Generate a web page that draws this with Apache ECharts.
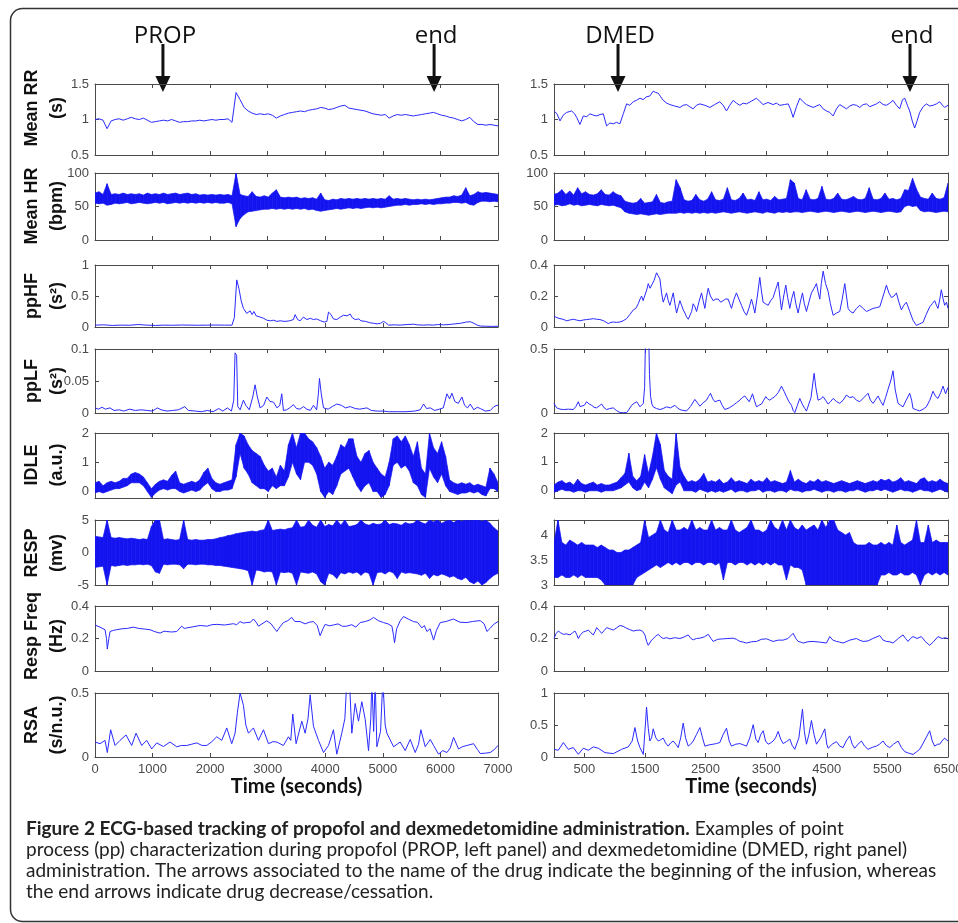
<!DOCTYPE html>
<html><head><meta charset="utf-8">
<script src="https://cdn.jsdelivr.net/npm/echarts@6/dist/echarts.min.js"></script>
<style>html,body{margin:0;padding:0;background:#fff}#c{width:958px;height:923px}</style>
</head><body><div id="c"></div><script>
// ---------------- DATA ----------------
const leftTimeTicks = [0,1000,2000,3000,4000,5000,6000,7000];
const rightTimeTicks = [500,1500,2500,3500,4500,5500,6500];
const leftSpan = 7000, rightSpan = 6500;

const rowLabels = [['Mean RR','(s)'],['Mean HR','(bpm)'],['ppHF','(s\u00B2)'],['ppLF','(s\u00B2)'],['IDLE','(a.u.)'],['RESP','(mv)'],['Resp Freq','(Hz)'],['RSA','(s/n.u.)']];

// Left (propofol) -------------------------------------------------------
const rrLeft = [1.00,1.01,0.99,0.87,0.98,1.00,1.01,0.99,1.01,1.03,
 1.01,1.00,1.02,0.99,0.96,0.97,0.98,0.99,0.98,1.00,
 0.98,0.96,0.97,0.97,0.98,0.98,0.99,0.98,0.99,1.00,
 0.99,1.00,1.00,1.01,0.96,1.38,1.28,1.17,1.12,1.09,
 1.07,1.08,1.07,1.08,1.06,1.02,1.05,1.07,1.09,1.10,
 1.11,1.12,1.11,1.13,1.14,1.15,1.17,1.16,1.14,1.15,
 1.17,1.19,1.20,1.16,1.15,1.14,1.13,1.12,1.10,1.08,
 1.07,1.06,1.07,1.02,1.05,1.07,1.06,1.07,1.06,1.05,
 1.06,1.07,1.08,1.09,1.10,1.08,1.06,1.05,1.03,1.02,
 1.00,0.98,1.00,1.03,0.97,0.93,0.93,0.92,0.93,0.92,0.91];

const hrLeftUpper = [70,72,68,84,68,69,68,70,68,69, 68,69,67,70,68,69,68,70,68,69, 70,68,69,70,68,69,67,68,67,68,
 67,68,67,68,66,100,68,66,65,72, 65,64,66,64,70,75,64,63,64,63, 64,62,63,62,63,61,70,60,59,61,
 60,62,61,62,61,62,61,62,61,62, 61,62,61,66,61,62,61,62,61,60, 61,60,61,60,61,62,63,64,64,66,
 65,67,78,66,68,72,70,71,70,69, 68];
const hrLeftLower = [55,54,55,52,53,55,54,55,56,54, 55,56,55,54,55,56,55,56,54,55, 56,55,56,55,56,55,56,55,56,55,
 56,55,55,56,54,20,32,38,42,43, 44,45,46,46,47,46,47,46,47,46, 47,46,47,45,46,44,43,44,45,46,
 47,46,47,48,47,48,47,48,49,48, 49,48,49,50,51,52,52,53,52,53, 53,54,53,54,53,54,54,55,55,56,
 56,55,56,53,52,56,58,58,57,58, 57];

const ppHFLeft = [[0,0.03],[150,0.035],[300,0.025],[450,0.03],[600,0.028],[750,0.04],[900,0.03],[1050,0.025],[1200,0.03],[1350,0.028],[1500,0.032],[1650,0.03],[1800,0.028],[1950,0.03],[2100,0.032],[2250,0.03],[2380,0.03],[2420,0.15],[2462,0.76],[2500,0.62],[2540,0.42],[2578,0.3],[2636,0.22],[2694,0.26],[2730,0.2],[2760,0.25],[2800,0.18],[2868,0.16],[2930,0.14],[2984,0.11],[3050,0.1],[3100,0.11],[3160,0.09],[3215,0.1],[3300,0.09],[3380,0.1],[3447,0.12],[3476,0.2],[3520,0.12],[3563,0.1],[3620,0.16],[3680,0.12],[3740,0.14],[3795,0.12],[3850,0.13],[3920,0.1],[3980,0.08],[4027,0.09],[4056,0.24],[4100,0.2],[4142,0.13],[4200,0.12],[4260,0.16],[4316,0.19],[4380,0.18],[4432,0.21],[4470,0.15],[4520,0.12],[4580,0.13],[4620,0.1],[4700,0.09],[4770,0.07],[4838,0.06],[4900,0.05],[4960,0.06],[5012,0.09],[5050,0.07],[5100,0.03],[5200,0.035],[5300,0.03],[5420,0.04],[5533,0.045],[5600,0.035],[5700,0.03],[5800,0.035],[5881,0.03],[5950,0.04],[6050,0.035],[6150,0.04],[6250,0.05],[6350,0.06],[6450,0.08],[6518,0.085],[6580,0.06],[6640,0.03],[6692,0.015],[6800,0.012],[6900,0.01],[7000,0.012]];

const ppLFLeft = [[0,0.008],[60,0.006],[120,0.009],[180,0.006],[260,0.008],[330,0.004],[420,0.005],[500,0.003],[600,0.006],[700,0.004],[800,0.005],[900,0.004],[1000,0.003],[1080,0.008],[1150,0.005],[1250,0.003],[1350,0.004],[1450,0.005],[1560,0.01],[1620,0.004],[1750,0.003],[1850,0.002],[1950,0.004],[2050,0.002],[2150,0.007],[2220,0.003],[2300,0.008],[2370,0.003],[2410,0.02],[2433,0.094],[2460,0.09],[2480,0.01],[2520,0.005],[2578,0.02],[2620,0.012],[2680,0.005],[2740,0.025],[2781,0.044],[2820,0.025],[2868,0.008],[2930,0.012],[2984,0.025],[3040,0.018],[3100,0.017],[3160,0.008],[3210,0.012],[3244,0.03],[3273,0.004],[3330,0.005],[3380,0.008],[3447,0.013],[3500,0.007],[3560,0.006],[3620,0.01],[3680,0.006],[3740,0.004],[3795,0.012],[3850,0.005],[3880,0.03],[3899,0.054],[3930,0.03],[3969,0.008],[4050,0.006],[4120,0.01],[4200,0.014],[4280,0.012],[4350,0.008],[4432,0.01],[4520,0.007],[4600,0.006],[4722,0.008],[4800,0.004],[4900,0.003],[5012,0.003],[5100,0.002],[5250,0.002],[5400,0.002],[5550,0.003],[5650,0.005],[5707,0.014],[5760,0.007],[5823,0.008],[5900,0.004],[5980,0.006],[6050,0.008],[6112,0.03],[6160,0.022],[6199,0.031],[6250,0.018],[6310,0.015],[6373,0.025],[6420,0.012],[6470,0.008],[6518,0.014],[6580,0.005],[6640,0.009],[6692,0.007],[6780,0.003],[6866,0.004],[6930,0.01],[6982,0.012],[7000,0.012]];

const idleLeftUpper = [0.3,0.35,0.2,0.3,0.35,0.3,0.35,0.45,0.45,0.6,
 0.65,0.6,0.5,0.3,0.1,0.25,0.35,0.4,0.35,0.55,
 0.7,0.3,0.25,0.3,0.35,0.3,0.4,0.65,0.8,0.45,
 0.3,0.25,0.3,0.35,0.4,1.6,2.0,1.9,1.6,1.4,
 1.3,1.2,0.9,0.7,0.8,0.5,0.9,0.7,1.6,2.0,
 1.5,2.0,2.0,1.8,1.7,1.5,1.2,0.8,1.0,0.9,
 1.2,1.6,1.5,1.8,1.8,1.2,1.0,1.3,1.4,1.0,
 0.8,0.6,0.5,1.0,1.8,1.9,1.7,1.9,1.6,1.2,
 1.7,0.8,0.6,2.0,1.5,1.3,1.7,1.2,0.4,0.3,
 0.25,0.3,0.25,0.3,0.2,0.25,0.2,0.15,0.8,0.6,0.3];
const idleLeftLower = [-0.05,0.0,-0.05,0.0,0.05,0.1,0.1,0.15,0.2,0.3,
 0.3,0.3,0.2,0.0,-0.2,-0.05,0.05,0.1,0.05,0.1,
 0.1,0.0,-0.05,0.0,0.05,0.0,0.05,0.2,0.3,0.1,
 0.0,0.0,0.05,0.05,0.1,0.5,1.3,0.8,0.6,0.3,
 0.2,0.1,0.1,0.0,0.2,0.1,0.2,0.2,0.5,1.0,
 0.6,0.4,1.0,1.0,0.9,0.6,0.0,-0.2,0.0,-0.1,
 0.2,0.6,0.7,0.8,0.5,0.2,0.0,0.2,0.3,0.0,
 0.0,-0.2,-0.1,0.2,0.9,1.0,0.8,0.9,0.7,0.3,
 0.2,-0.1,-0.2,0.8,0.5,0.3,0.6,0.2,0.0,-0.05,
 -0.1,-0.05,-0.05,0.0,-0.05,0.0,-0.1,-0.15,0.1,0.1,0.0];

const respLeftUpper = [2.5,2.4,2.3,5,2.3,2.2,2.3,2.2,2.1,2.2,2.1,
 2.0,2.1,2.0,4.0,5.0,5.0,2.0,2.1,2.0,1.9,2.0,5.0,2.0,1.9,2.0,1.9,1.9,2.0,
 2.0,2.1,2.3,2.4,2.6,2.7,2.9,3.0,3.1,3.2,3.3,3.2,
 3.4,3.5,5.0,3.4,3.5,3.6,3.5,3.7,3.8,5.0,
 3.9,4.0,5.0,4.2,3.9,5.0,4.0,4.3,4.1,5.0,4.2,5.0,4.0,4.1,
 4.3,5.0,4.4,4.2,4.5,4.3,4.4,5.0,4.3,4.5,4.4,4.2,4.6,4.4,
 4.5,5.0,4.6,4.4,5.0,4.7,5.0,4.5,4.8,5.0,4.6,5.0,4.8,5.0,4.9,5.0,5.0,4.8,5.0,4.5,3.8,3.3];
const respLeftLower = [-2.3,-2.2,-2.1,-5,-2.0,-2.1,-2.0,-1.9,-2.0,-1.9,-1.9,
 -1.8,-1.9,-1.8,-2.0,-3.0,-3.2,-1.8,-1.9,-1.8,-1.8,-1.9,-2.5,-1.8,-1.8,-1.9,-1.8,-1.8,-1.9,
 -1.9,-2.0,-2.0,-2.1,-2.2,-2.3,-2.4,-2.5,-2.6,-2.8,-5.0,-2.7,
 -2.8,-3.0,-2.9,-3.0,-5.0,-3.0,-3.1,-3.0,-3.2,-5.0,
 -3.0,-3.1,-3.2,-3.0,-3.3,-4.5,-5.0,-3.2,-3.4,-4.0,-3.1,-3.3,-3.0,-3.2,
 -3.0,-3.5,-3.0,-3.2,-5.0,-3.1,-3.0,-3.3,-2.9,-3.1,-4.0,-3.0,-3.2,-3.1,
 -3.2,-3.3,-3.5,-3.2,-4.0,-3.4,-3.6,-3.3,-3.5,-3.8,-3.6,-4.0,-4.2,-3.8,-4.5,-4.8,-4.4,-5.0,-4.6,-4.0,-3.5,-3.2];

const respFreqLeft = [[0,0.283],[87,0.27],[174,0.254],[200,0.2],[214,0.135],[240,0.2],[261,0.243],[320,0.25],[377,0.254],[470,0.26],[560,0.262],[666,0.27],[760,0.262],[860,0.258],[956,0.254],[1040,0.242],[1130,0.233],[1200,0.245],[1246,0.243],[1330,0.24],[1419,0.243],[1506,0.276],[1550,0.262],[1593,0.265],[1700,0.272],[1825,0.28],[1950,0.276],[2030,0.285],[2115,0.287],[2250,0.283],[2404,0.291],[2460,0.285],[2520,0.304],[2580,0.295],[2636,0.298],[2700,0.3],[2752,0.32],[2800,0.3],[2839,0.276],[2900,0.29],[2984,0.309],[3060,0.29],[3120,0.26],[3158,0.243],[3210,0.27],[3273,0.298],[3350,0.31],[3418,0.33],[3470,0.305],[3563,0.304],[3650,0.29],[3720,0.3],[3795,0.304],[3860,0.28],[3910,0.217],[3960,0.26],[3998,0.287],[4070,0.278],[4142,0.283],[4220,0.29],[4300,0.275],[4374,0.276],[4460,0.285],[4530,0.27],[4606,0.298],[4700,0.305],[4780,0.315],[4838,0.33],[4920,0.31],[5012,0.298],[5090,0.29],[5157,0.276],[5185,0.22],[5203,0.174],[5240,0.26],[5301,0.309],[5359,0.335],[5440,0.32],[5533,0.304],[5600,0.3],[5678,0.265],[5720,0.28],[5765,0.243],[5820,0.26],[5881,0.19],[5930,0.25],[5997,0.298],[6100,0.305],[6228,0.32],[6340,0.3],[6460,0.298],[6560,0.305],[6692,0.31],[6760,0.29],[6808,0.243],[6870,0.265],[6924,0.287],[7000,0.304]];

const rsaLeft = [[0,0.117],[87,0.104],[174,0.13],[214,0.035],[272,0.213],[348,0.09],[435,0.13],[539,0.172],[637,0.09],[713,0.186],[811,0.09],[898,0.13],[985,0.063],[1072,0.11],[1188,0.082],[1304,0.117],[1419,0.08],[1500,0.09],[1593,0.09],[1680,0.1],[1767,0.11],[1860,0.09],[1941,0.09],[2030,0.12],[2115,0.158],[2202,0.13],[2289,0.227],[2375,0.104],[2433,0.186],[2474,0.35],[2520,0.5],[2578,0.404],[2620,0.25],[2665,0.186],[2752,0.227],[2839,0.13],[2926,0.213],[3013,0.104],[3090,0.12],[3158,0.117],[3273,0.09],[3360,0.158],[3400,0.13],[3435,0.336],[3493,0.104],[3592,0.28],[3650,0.186],[3700,0.3],[3737,0.486],[3795,0.24],[3882,0.13],[3969,0.035],[4056,0.09],[4142,0.213],[4200,0.022],[4287,0.186],[4340,0.3],[4374,0.6],[4420,0.6],[4461,0.186],[4519,0.418],[4577,0.28],[4635,0.432],[4693,0.295],[4751,0.05],[4790,0.3],[4809,0.6],[4840,0.2],[4867,0.6],[4896,0.08],[4960,0.2],[5000,0.6],[5040,0.25],[5070,0.186],[5186,0.08],[5301,0.117],[5388,0.05],[5475,0.137],[5562,0.035],[5620,0.1],[5660,0.213],[5736,0.08],[5823,0.137],[5881,0.09],[5968,0.022],[6040,0.05],[6112,0.035],[6170,0.07],[6228,0.153],[6315,0.063],[6380,0.08],[6460,0.09],[6576,0.104],[6640,0.06],[6692,0.027],[6780,0.03],[6866,0.035],[6940,0.06],[7000,0.09]];

// Right (dexmedetomidine) ----------------------------------------------
const rrRight = [[0,1.12],[50,1.08],[99,0.98],[150,1.06],[209,1.1],[291,1.12],[340,1.08],[374,1.03],[428,0.93],[483,1.05],[540,1.04],[593,1.08],[650,1.06],[703,1.05],[760,1.07],[813,1.08],[868,0.91],[920,0.95],[978,0.94],[1030,0.96],[1088,0.94],[1143,1.08],[1198,1.22],[1250,1.2],[1308,1.25],[1360,1.27],[1418,1.3],[1470,1.28],[1527,1.32],[1580,1.33],[1637,1.4],[1680,1.38],[1720,1.37],[1760,1.32],[1802,1.27],[1860,1.23],[1912,1.21],[1990,1.19],[2077,1.17],[2130,1.2],[2187,1.21],[2240,1.18],[2297,1.15],[2350,1.2],[2407,1.22],[2490,1.2],[2571,1.17],[2650,1.21],[2736,1.25],[2790,1.2],[2846,1.12],[2900,1.2],[2956,1.27],[3010,1.23],[3066,1.2],[3120,1.23],[3176,1.22],[3260,1.26],[3341,1.3],[3400,1.25],[3451,1.21],[3530,1.24],[3615,1.21],[3670,1.23],[3725,1.2],[3800,1.21],[3863,1.22],[3900,1.15],[3945,1.03],[4000,1.18],[4055,1.3],[4110,1.25],[4165,1.21],[4220,1.19],[4275,1.17],[4330,1.19],[4385,1.21],[4440,1.15],[4495,1.12],[4550,1.1],[4605,1.05],[4660,1.15],[4714,1.21],[4770,1.18],[4824,1.15],[4880,1.19],[4934,1.21],[4990,1.2],[5044,1.17],[5100,1.21],[5154,1.22],[5210,1.18],[5264,1.2],[5320,1.22],[5374,1.25],[5430,1.21],[5484,1.2],[5540,1.23],[5593,1.27],[5650,1.2],[5703,1.15],[5750,1.28],[5786,1.3],[5830,1.2],[5868,1.12],[5910,0.98],[5950,0.88],[5990,0.98],[6033,1.1],[6090,1.18],[6143,1.22],[6200,1.19],[6253,1.2],[6310,1.22],[6363,1.25],[6410,1.2],[6445,1.17],[6500,1.2]];

const hrRightUpper = [68,70,75,68,73,67,78,69,72,68, 67,69,75,68,67,72,68,66,58,56, 55,56,62,55,56,57,68,56,55,57,
 58,90,78,60,58,59,68,60,58,61, 72,60,59,61,78,60,59,62,70,60, 61,59,72,60,61,59,65,60,61,62,
 90,85,62,60,75,61,60,62,80,61, 60,62,70,61,60,62,65,61,60,62, 78,61,60,62,70,61,62,60,62,75,
 74,92,76,64,62,61,70,62,61,63, 85];
const hrRightLower = [52,53,51,52,54,52,53,51,52,53, 52,51,53,52,51,52,50,48,42,40, 39,38,39,38,37,38,39,38,39,40,
 40,40,41,40,41,40,41,40,41,40, 41,40,41,42,41,40,41,42,41,40, 41,42,41,40,42,41,40,42,41,42,
 41,42,42,41,42,43,42,41,42,43, 42,41,42,43,42,41,42,43,42,41, 42,43,42,41,42,43,42,41,42,50,
 52,50,51,44,42,43,42,41,42,43, 42];

const ppHFRight = [[0,0.07],[50,0.06],[99,0.054],[150,0.05],[209,0.04],[260,0.045],[319,0.05],[370,0.045],[428,0.04],[480,0.045],[538,0.048],[590,0.05],[648,0.054],[700,0.05],[758,0.048],[820,0.04],[896,0.022],[940,0.03],[978,0.032],[1030,0.03],[1088,0.032],[1140,0.04],[1198,0.054],[1250,0.08],[1308,0.11],[1350,0.12],[1390,0.15],[1420,0.18],[1445,0.2],[1470,0.17],[1500,0.18],[1530,0.24],[1555,0.28],[1585,0.25],[1610,0.26],[1650,0.3],[1692,0.35],[1720,0.33],[1747,0.31],[1775,0.22],[1802,0.16],[1830,0.19],[1857,0.22],[1885,0.17],[1912,0.14],[1940,0.18],[1967,0.22],[1995,0.15],[2022,0.09],[2050,0.13],[2077,0.17],[2105,0.14],[2132,0.11],[2160,0.09],[2187,0.065],[2215,0.05],[2242,0.043],[2270,0.1],[2297,0.15],[2325,0.13],[2352,0.1],[2390,0.16],[2434,0.22],[2460,0.17],[2489,0.12],[2515,0.19],[2544,0.25],[2580,0.2],[2626,0.17],[2670,0.18],[2709,0.18],[2750,0.16],[2791,0.17],[2830,0.18],[2873,0.18],[2900,0.15],[2928,0.12],[2970,0.18],[3010,0.22],[3050,0.18],[3093,0.14],[3135,0.1],[3176,0.076],[3215,0.12],[3258,0.18],[3285,0.14],[3313,0.09],[3355,0.2],[3395,0.32],[3420,0.24],[3450,0.16],[3490,0.15],[3533,0.14],[3575,0.17],[3615,0.19],[3655,0.24],[3698,0.29],[3725,0.2],[3753,0.11],[3790,0.2],[3824,0.27],[3855,0.19],[3890,0.12],[3920,0.18],[3956,0.23],[3990,0.15],[4027,0.09],[4063,0.16],[4099,0.22],[4130,0.15],[4165,0.1],[4205,0.16],[4247,0.22],[4290,0.25],[4330,0.28],[4360,0.22],[4385,0.18],[4410,0.28],[4440,0.36],[4480,0.28],[4522,0.23],[4560,0.15],[4605,0.076],[4660,0.09],[4714,0.1],[4755,0.18],[4797,0.28],[4825,0.2],[4852,0.12],[4890,0.1],[4934,0.09],[4990,0.12],[5044,0.14],[5100,0.12],[5154,0.1],[5210,0.11],[5264,0.12],[5320,0.125],[5374,0.13],[5430,0.2],[5484,0.27],[5525,0.22],[5566,0.19],[5610,0.2],[5649,0.22],[5690,0.16],[5731,0.11],[5770,0.14],[5813,0.16],[5870,0.1],[5923,0.043],[5978,0.01],[6030,0.02],[6088,0.03],[6140,0.08],[6198,0.13],[6240,0.15],[6280,0.17],[6310,0.14],[6335,0.12],[6365,0.18],[6390,0.24],[6420,0.18],[6445,0.14],[6475,0.16],[6500,0.12]];

const ppLFRight = [[0,0.075],[44,0.04],[100,0.03],[154,0.027],[240,0.03],[319,0.027],[360,0.05],[401,0.088],[430,0.05],[456,0.035],[500,0.06],[538,0.088],[580,0.07],[621,0.06],[660,0.045],[703,0.04],[745,0.055],[786,0.07],[830,0.04],[868,0.027],[920,0.035],[978,0.04],[1030,0.02],[1088,0.003],[1150,0.003],[1198,0.003],[1240,0.03],[1280,0.06],[1320,0.075],[1363,0.088],[1390,0.07],[1418,0.048],[1450,0.06],[1473,0.075],[1495,0.2],[1517,0.8],[1555,0.8],[1575,0.3],[1593,0.13],[1615,0.07],[1637,0.048],[1690,0.035],[1747,0.027],[1800,0.035],[1857,0.048],[1920,0.04],[1995,0.06],[2035,0.04],[2077,0.027],[2130,0.02],[2187,0.016],[2250,0.05],[2324,0.106],[2365,0.08],[2407,0.053],[2460,0.08],[2516,0.1],[2550,0.13],[2582,0.154],[2620,0.11],[2654,0.088],[2695,0.095],[2736,0.1],[2775,0.06],[2818,0.027],[2890,0.04],[2956,0.06],[3010,0.08],[3066,0.1],[3105,0.12],[3148,0.133],[3185,0.11],[3220,0.088],[3250,0.12],[3275,0.15],[3305,0.1],[3341,0.048],[3380,0.06],[3423,0.07],[3460,0.1],[3494,0.128],[3525,0.11],[3560,0.1],[3600,0.115],[3643,0.128],[3700,0.16],[3753,0.21],[3795,0.17],[3835,0.128],[3875,0.09],[3918,0.06],[3945,0.02],[3973,0.003],[4015,0.06],[4055,0.114],[4095,0.07],[4137,0.035],[4165,0.015],[4192,0.01],[4240,0.12],[4291,0.31],[4320,0.2],[4357,0.1],[4400,0.11],[4440,0.128],[4480,0.1],[4522,0.07],[4565,0.09],[4605,0.114],[4660,0.09],[4714,0.075],[4770,0.1],[4824,0.14],[4880,0.12],[4934,0.128],[4990,0.1],[5044,0.088],[5110,0.12],[5181,0.154],[5220,0.1],[5264,0.075],[5300,0.1],[5346,0.133],[5390,0.09],[5429,0.06],[5470,0.12],[5511,0.186],[5555,0.25],[5593,0.33],[5630,0.18],[5676,0.075],[5720,0.06],[5758,0.048],[5810,0.1],[5868,0.154],[5900,0.1],[5923,0.035],[5980,0.025],[6033,0.016],[6090,0.03],[6143,0.048],[6200,0.1],[6253,0.17],[6295,0.13],[6335,0.114],[6380,0.16],[6418,0.21],[6460,0.15],[6500,0.2]];

const idleRightUpper = [0.2,0.3,0.35,0.25,0.3,0.2,0.4,0.25,0.2,0.25,
 0.3,0.2,0.25,0.2,0.2,0.25,0.3,0.45,0.6,1.3,
 0.5,0.35,0.5,1.25,0.6,1.2,2.0,1.6,0.7,0.5,
 0.4,2.0,0.8,0.5,0.3,0.35,0.3,0.4,0.6,0.3,
 0.35,0.3,0.4,0.25,0.3,0.45,0.3,0.35,0.3,0.25,
 0.4,0.3,0.35,0.3,0.45,0.3,0.35,0.3,0.25,0.3,
 0.7,0.3,0.4,0.3,0.25,0.35,0.3,0.4,0.3,0.35,
 0.3,0.25,0.3,0.35,0.3,0.25,0.3,0.35,0.3,0.25,
 0.3,0.35,0.3,0.4,0.35,0.4,0.3,0.35,0.45,0.3,
 0.35,0.3,0.25,0.4,0.45,0.3,0.35,0.3,0.4,0.3,0.25];
const idleRightLower = [-0.05,0.0,0.05,0.0,0.0,-0.05,0.0,0.0,-0.05,0.0,
 0.0,0.0,-0.05,0.0,0.0,0.0,0.05,0.1,0.2,0.3,
 0.1,0.0,0.05,0.3,0.1,0.4,0.8,0.4,0.1,0.0,
 -0.1,0.2,0.3,0.0,0.0,0.0,-0.05,0.05,0.0,-0.05,
 0.0,-0.05,0.0,-0.05,0.0,0.05,-0.05,0.0,0.0,-0.05,
 0.0,0.0,0.05,-0.05,0.0,0.0,-0.05,0.0,0.0,-0.05,
 0.05,0.0,0.0,-0.05,0.0,0.0,0.05,0.0,-0.05,0.0,
 0.0,-0.05,0.0,0.0,-0.05,0.0,0.0,0.05,0.0,-0.05,
 0.0,0.0,0.05,0.0,0.05,0.0,-0.05,0.0,0.05,0.0,
 0.0,-0.05,0.0,0.05,0.0,0.0,-0.05,0.0,0.05,0.0,-0.05];

const respRightUpper = [3.85,4.3,3.85,3.8,3.9,3.85,3.8,3.85,3.8,3.8,
 3.8,3.75,3.8,3.75,3.7,3.7,3.65,3.65,3.7,3.7,
 3.75,3.8,3.85,4.3,3.95,4.0,4.05,4.3,4.1,4.05,
 4.3,4.1,4.1,4.15,4.1,4.3,4.1,4.15,4.1,4.1,
 4.3,4.1,4.15,4.1,4.1,4.3,4.1,4.05,4.1,4.15,
 4.3,4.1,4.1,4.05,4.1,4.3,4.15,4.1,4.3,4.1,
 4.3,4.15,4.1,4.2,4.1,4.15,4.2,4.1,4.3,4.15,
 4.3,4.3,4.1,4.05,4.0,4.05,3.85,3.8,3.8,3.8,
 3.85,3.8,3.8,3.85,3.8,3.85,3.8,4.2,3.85,3.8,
 3.85,3.9,4.3,3.85,3.85,4.2,3.85,3.9,3.85,3.85,3.85];
const respRightLower = [3.15,3.15,3.2,3.15,3.15,3.2,3.15,3.2,3.15,3.15,
 3.15,3.15,3.1,2.9,2.9,2.9,2.9,2.9,2.9,2.9,
 3.0,3.15,3.2,3.25,3.3,3.35,3.4,3.35,3.4,3.45,
 3.4,3.45,3.4,3.45,3.45,3.4,3.45,3.45,3.4,3.45,
 3.45,3.4,3.45,3.1,3.45,3.45,3.4,3.45,3.45,3.4,
 3.45,3.4,3.45,3.4,3.45,3.4,3.45,3.4,3.4,3.1,
 3.4,3.35,3.35,3.3,2.9,2.9,2.9,2.9,2.9,2.9,
 2.9,2.9,2.9,2.9,2.9,2.9,2.9,2.9,2.9,2.9,
 2.9,2.9,2.9,3.2,3.2,3.25,3.2,3.2,3.25,3.2,
 3.2,3.25,3.2,2.9,3.2,3.25,3.2,3.25,3.2,3.25,3.2];

const respFreqRight = [[0,0.2],[35,0.23],[71,0.246],[110,0.235],[154,0.226],[210,0.228],[264,0.222],[305,0.235],[346,0.246],[375,0.225],[401,0.2],[440,0.225],[483,0.24],[525,0.245],[566,0.252],[610,0.235],[648,0.222],[680,0.245],[703,0.267],[745,0.25],[786,0.232],[830,0.25],[868,0.267],[920,0.26],[978,0.252],[1030,0.265],[1088,0.28],[1140,0.275],[1198,0.263],[1250,0.255],[1308,0.246],[1360,0.25],[1418,0.252],[1460,0.245],[1500,0.222],[1530,0.18],[1555,0.158],[1600,0.185],[1637,0.2],[1680,0.215],[1720,0.226],[1760,0.21],[1802,0.2],[1860,0.205],[1912,0.198],[1990,0.205],[2077,0.2],[2150,0.21],[2214,0.222],[2260,0.2],[2297,0.192],[2350,0.2],[2407,0.202],[2480,0.21],[2544,0.226],[2590,0.2],[2626,0.182],[2700,0.195],[2791,0.198],[2870,0.2],[2956,0.202],[3010,0.195],[3066,0.182],[3120,0.178],[3176,0.172],[3260,0.18],[3341,0.182],[3420,0.195],[3505,0.198],[3560,0.19],[3615,0.182],[3700,0.19],[3780,0.19],[3860,0.2],[3945,0.232],[3990,0.2],[4027,0.182],[4070,0.178],[4110,0.172],[4190,0.18],[4275,0.182],[4380,0.178],[4495,0.172],[4550,0.212],[4600,0.19],[4660,0.182],[4710,0.178],[4769,0.172],[4880,0.19],[4989,0.2],[5040,0.19],[5099,0.182],[5180,0.185],[5260,0.2],[5374,0.218],[5430,0.19],[5484,0.182],[5540,0.18],[5593,0.172],[5680,0.2],[5758,0.222],[5800,0.2],[5841,0.182],[5880,0.2],[5923,0.212],[5990,0.2],[6060,0.212],[6130,0.18],[6198,0.158],[6260,0.18],[6335,0.212],[6400,0.2],[6460,0.205],[6500,0.198]];

const rsaRight = [[0,0.12],[71,0.105],[154,0.226],[236,0.12],[319,0.147],[401,0.042],[483,0.137],[566,0.105],[648,0.158],[731,0.137],[841,0.068],[978,0.053],[1116,0.12],[1225,0.158],[1290,0.25],[1335,0.46],[1380,0.25],[1418,0.147],[1473,0.04],[1500,0.4],[1527,0.78],[1555,0.45],[1582,0.25],[1610,0.3],[1637,0.44],[1680,0.3],[1720,0.25],[1760,0.27],[1802,0.295],[1840,0.22],[1884,0.17],[1925,0.22],[1967,0.25],[2010,0.2],[2049,0.147],[2090,0.3],[2132,0.53],[2170,0.3],[2214,0.17],[2255,0.2],[2297,0.25],[2350,0.35],[2407,0.46],[2450,0.3],[2489,0.17],[2560,0.19],[2626,0.2],[2680,0.21],[2736,0.226],[2790,0.35],[2846,0.45],[2890,0.25],[2928,0.17],[3000,0.2],[3066,0.21],[3120,0.19],[3176,0.17],[3230,0.3],[3286,0.505],[3330,0.28],[3368,0.226],[3410,0.35],[3451,0.41],[3490,0.25],[3533,0.2],[3575,0.22],[3615,0.25],[3655,0.3],[3698,0.4],[3740,0.28],[3780,0.21],[3835,0.24],[3890,0.28],[3930,0.18],[3972,0.12],[4040,0.3],[4099,0.75],[4130,0.4],[4165,0.2],[4205,0.35],[4247,0.57],[4290,0.35],[4330,0.2],[4400,0.3],[4467,0.44],[4500,0.2],[4522,0.137],[4590,0.2],[4660,0.24],[4715,0.17],[4769,0.147],[4820,0.25],[4879,0.33],[4920,0.2],[4961,0.137],[5015,0.2],[5071,0.25],[5125,0.17],[5181,0.12],[5250,0.15],[5318,0.17],[5370,0.2],[5429,0.25],[5480,0.18],[5539,0.147],[5600,0.2],[5676,0.25],[5730,0.15],[5786,0.084],[5850,0.06],[5923,0.04],[5980,0.08],[6033,0.12],[6110,0.25],[6198,0.41],[6240,0.25],[6280,0.17],[6330,0.2],[6363,0.2],[6400,0.25],[6445,0.295],[6500,0.25]];

// event markers (time in s)
const eventsLeft = [['PROP',1180],['end',5890]];
const eventsRight = [['DMED',1056],['end',5873]];

// ---------------- BUILDING ----------------
function uniform(vals, span){ return vals.map((v,i)=>[i*span/(vals.length-1), v]); }
// one item per interval between two envelope samples: [t0, lo0, up0, t1, lo1, up1]
function bandItems(up, lo, span){
  const n = Math.min(up.length, lo.length), dt = span/(n-1), out = [];
  for (let i=0;i<n-1;i++) out.push([i*dt, lo[i], up[i], (i+1)*dt, lo[i+1], up[i+1]]);
  return out;
}

const panels = [
  {d: uniform(rrLeft, leftSpan), y:[0.5,1.5,[0.5,1,1.5]]},
  {b: bandItems(hrLeftUpper, hrLeftLower, leftSpan), y:[0,100,[0,50,100]]},
  {d: ppHFLeft, y:[0,1,[0,0.5,1]]},
  {d: ppLFLeft, y:[0,0.1,[0,0.05,0.1]]},
  {b: bandItems(idleLeftUpper, idleLeftLower, leftSpan), y:[-0.22,2,[0,1,2]]},
  {b: bandItems(respLeftUpper, respLeftLower, leftSpan), y:[-5,5,[-5,0,5]]},
  {d: respFreqLeft, y:[0,0.4,[0,0.2,0.4]]},
  {d: rsaLeft, y:[0,0.5,[0,0.5]]},
  {d: rrRight, y:[0.5,1.5,[0.5,1,1.5]]},
  {b: bandItems(hrRightUpper, hrRightLower, rightSpan), y:[0,100,[0,50,100]]},
  {d: ppHFRight, y:[0,0.4,[0,0.2,0.4]]},
  {d: ppLFRight, y:[0,0.5,[0,0.5]]},
  {b: bandItems(idleRightUpper, idleRightLower, rightSpan), y:[-0.25,2,[0,1,2]]},
  {b: bandItems(respRightUpper, respRightLower, rightSpan), y:[3,4.3,[3,3.5,4]]},
  {d: respFreqRight, y:[0,0.4,[0,0.2,0.4]]},
  {d: rsaRight, y:[0,1,[0,0.5,1]]}
];

const rowTop = [84,173,265,349,433,520,606,693];
const rowH   = [71,67,62,64,65,65,65,64];
const tickFont = "'Liberation Sans Narrow','Liberation Sans',Arial,sans-serif";
const axisCol = '#4a4a4a';
const lineCol = '#2a2aff';
const bandCol = '#1414f0';

function renderBand(params, api){
  const cs = params.coordSys;
  const cy = (y)=>Math.max(cs.y, Math.min(cs.y + cs.height, y));
  const a = api.coord([api.value(0), api.value(1)]);
  const b = api.coord([api.value(0), api.value(2)]);
  const c = api.coord([api.value(3), api.value(5)]);
  const d = api.coord([api.value(3), api.value(4)]);
  const pts = [a,b,c,d].map(p=>[p[0], cy(p[1])]);
  return {type:'polygon', shape:{points:pts}, style:{fill:bandCol, stroke:bandCol, lineWidth:0.7}};
}

const grids=[], xAxes=[], yAxes=[], series=[];
panels.forEach((p,k)=>{
  const side = k<8?0:1, row = k%8, bottom = row===7;
  const xt = side?rightTimeTicks:leftTimeTicks, xmax = side?rightSpan:leftSpan;
  grids.push({left: side?554:95, width: side?394:403, top: rowTop[row], height: rowH[row], outerBoundsMode:'none', containLabel:false});
  const line = {show:true, onZero:false, lineStyle:{color:axisCol, width:1}};
  const tick = (vals)=>({show:true, inside:true, length:4, customValues:vals, lineStyle:{color:axisCol, width:1}});
  const lab = (vals, show)=>({show, customValues:vals, margin:6, fontSize:13, color:'#4a4a4a', fontFamily:tickFont, formatter:(v)=>String(+(+v).toFixed(4)), hideOverlap:false});
  xAxes.push({gridIndex:k, type:'value', min:0, max:xmax, position:'bottom', axisLine:line, axisTick:tick(xt), axisLabel:lab(xt, bottom), splitLine:{show:false},
    name: bottom?'Time (seconds)':'', nameLocation:'middle', nameGap:19,
    nameTextStyle:{fontFamily:'Lato', fontWeight:'bold', fontSize:20, color:'#111'}});
  xAxes.push({gridIndex:k, type:'value', min:0, max:xmax, position:'top', axisLine:line, axisTick:tick(xt), axisLabel:{show:false}, splitLine:{show:false}});
  yAxes.push({gridIndex:k, type:'value', min:p.y[0], max:p.y[1], position:'left', axisLine:line, axisTick:tick(p.y[2]), axisLabel:lab(p.y[2], true), splitLine:{show:false}});
  yAxes.push({gridIndex:k, type:'value', min:p.y[0], max:p.y[1], position:'right', axisLine:line, axisTick:tick(p.y[2]), axisLabel:{show:false}, splitLine:{show:false}});
  if (p.d) {
    series.push({type:'line', xAxisIndex:2*k, yAxisIndex:2*k, data:p.d, showSymbol:false, symbol:'none', clip:true, silent:true, animation:false,
      lineStyle:{width:1, color:lineCol}});
  } else {
    series.push({type:'custom', xAxisIndex:2*k, yAxisIndex:2*k, data:p.b, silent:true, animation:false, clip:true,
      encode:{x:[0,3], y:[1,2,4,5]}, renderItem:renderBand});
  }
});

const labelCenters = [108,206,296,381,465,553,636,725];
const graphics = [];
graphics.push({type:'rect', shape:{x:10.5, y:8.5, width:990, height:913, r:12}, style:{fill:'none', stroke:'#333', lineWidth:1.5}, silent:true});
rowLabels.forEach((l,i)=>{
  graphics.push({type:'text', x:45, y:labelCenters[i], rotation:Math.PI/2,
    style:{text:l[0]+'\n'+l[1], x:0, y:0, align:'center', verticalAlign:'middle', font:"bold 18px 'Liberation Sans', Arial, sans-serif", lineHeight:25, fill:'#111'}});
});
graphics.push({type:'text', x:26, y:818, style:{
  text:'{b|Figure 2 ECG-based tracking of propofol and dexmedetomidine administration.} Examples of point\nprocess (pp) characterization during propofol (PROP, left panel) and dexmedetomidine (DMED, right panel)\nadministration. The arrows associated to the name of the drug indicate the beginning of the infusion, whereas\nthe end arrows indicate drug decrease/cessation.',
  x:0, y:0, align:'left', verticalAlign:'top', fontFamily:'Lato', fontSize:19, lineHeight:21, fill:'#222',
  rich:{b:{fontFamily:'Lato', fontSize:19, fontWeight:'bold', lineHeight:21, fill:'#222'}}}});

const chart = echarts.init(document.getElementById('c'));
chart.setOption({animation:false, backgroundColor:'#fff', grid:grids, xAxis:xAxes, yAxis:yAxes, series:series, graphic:graphics});

// arrows placed through the x scales
const extra = graphics.slice();
function addEvent(name, t, gridIdx){
  const x = chart.convertToPixel({xAxisIndex: 2*gridIdx}, t);
  extra.push({type:'line', shape:{x1:x, y1:44, x2:x, y2:80}, style:{stroke:'#111', lineWidth:3}, silent:true});
  extra.push({type:'polygon', shape:{points:[[x-7.5,76],[x+7.5,76],[x,92]]}, style:{fill:'#111'}, silent:true});
  extra.push({type:'text', x:x+2, y:36, style:{text:name, x:0, y:0, align:'center', verticalAlign:'middle', font:"24px 'Open Sans', sans-serif", fill:'#111'}});
}
eventsLeft.forEach(e=>addEvent(e[0], e[1], 0));
eventsRight.forEach(e=>addEvent(e[0], e[1], 8));
chart.setOption({graphic: extra});
</script></body></html>
